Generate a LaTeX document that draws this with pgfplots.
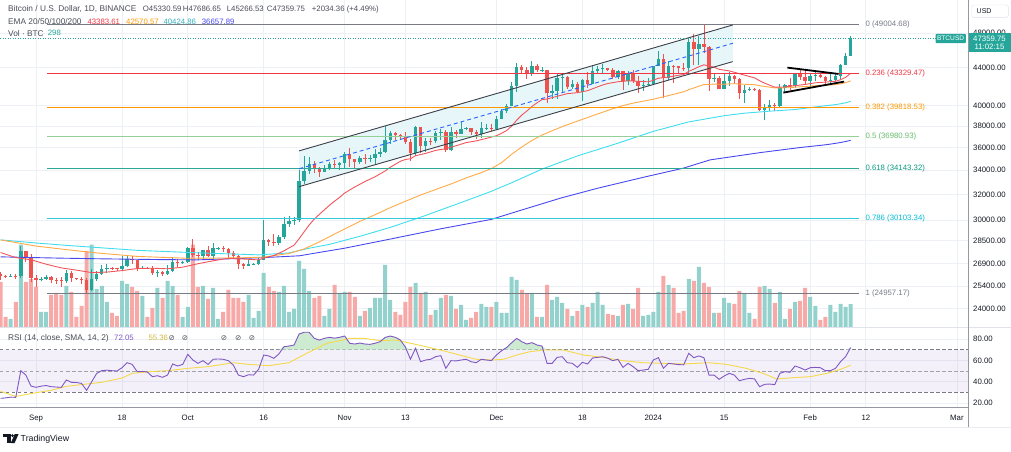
\documentclass[border=0pt]{standalone}
\usepackage{fontspec}
\setmainfont{Liberation Sans}
\newfontfamily\symfont{DejaVu Sans}
\usepackage{pgfplots}
\pgfplotsset{compat=1.18}
\usepackage{pgfplotstable}

% palette
\definecolor{upc}{HTML}{26A69A}
\definecolor{dnc}{HTML}{EF5350}
\definecolor{upv}{HTML}{93D2CC}
\definecolor{dnv}{HTML}{F7A9A7}
\definecolor{txt}{HTML}{131722}
\definecolor{lbl}{HTML}{4A4D57}
\definecolor{gridc}{HTML}{EDF0F5}
\definecolor{frame}{HTML}{9598A1}
\definecolor{sepc}{HTML}{E0E3EB}
\definecolor{fgray}{HTML}{787B86}
\definecolor{fred}{HTML}{F23645}
\definecolor{forange}{HTML}{FF9800}
\definecolor{fgreen}{HTML}{66BB6A}
\definecolor{fteal}{HTML}{089981}
\definecolor{fcyan}{HTML}{00BCD4}
\definecolor{emaA}{HTML}{F2545B}
\definecolor{emaB}{HTML}{FFAA45}
\definecolor{emaC}{HTML}{3FDDEE}
\definecolor{emaD}{HTML}{4848F0}
\definecolor{rsic}{HTML}{7E57C2}
\definecolor{smac}{HTML}{F5D94A}
\definecolor{obc}{HTML}{CDEBD0}
\definecolor{chanfill}{HTML}{E3F5F8}
\definecolor{chanline}{HTML}{3C3F48}
\definecolor{midc}{HTML}{2962FF}

\newcommand\tvf{\fontsize{7.8}{9}\selectfont}
\newcommand\tvw{\fontsize{8.3}{9.5}\selectfont}

% daily candles: day index (0 = 1 Sep 2023), open, high, low, close, volume
\pgfplotstableread{
d o h l c v
-7 26170 26310 25780 26050 585
-6 26050 26110 25960 26010 130
-5 26010 26170 25980 26090 104
-4 26090 26220 25860 26080 325
-3 26080 28140 25910 27720 1066
-2 27720 27760 27020 27300 585
-1 27300 27570 25650 25940 624
0 25940 26130 25330 25800 520
1 25800 25970 25720 25870 195
2 25870 26130 25800 25970 195
3 25970 26090 25600 25820 416
4 25820 25900 25570 25790 442
5 25790 26000 25360 25750 416
6 25750 26440 25610 26240 533
7 26240 26420 25650 25905 455
8 25905 25940 25800 25895 130
9 25895 26000 25560 25830 273
10 25830 25900 24957.17 25160 988
11 25160 26540 25130 25840 1066
12 25840 26400 25760 26220 494
13 26220 26770 26130 26530 533
14 26530 26850 26230 26600 325
15 26600 26670 26470 26570 182
16 26570 26620 26420 26530 143
17 26530 27410 26390 26760 598
18 26760 27490 26680 27210 559
19 27210 27390 26850 27130 520
20 27130 27150 26360 26570 468
21 26570 26740 26500 26580 403
22 26580 26640 26520 26570 130
23 26570 26740 26130 26250 247
24 26250 26430 25990 26300 507
25 26300 26390 26090 26220 377
26 26220 26820 26110 26370 598
27 26370 27310 26330 27030 533
28 27030 27230 26670 26910 416
29 26910 27090 26890 26970 130
30 26970 28070 26950 27990 260
31 27990 28580 27320 27500 1066
32 27500 27670 27160 27430 520
33 27430 27840 27220 27790 533
34 27790 28120 27360 27410 364
35 27410 28290 27170 27930 507
36 27930 28000 27850 27960 104
37 27960 28100 27690 27920 195
38 27920 27990 27260 27590 481
39 27590 27740 27300 27390 377
40 27390 27480 26560 26870 377
41 26870 26950 26540 26750 325
42 26750 27100 26700 26860 416
43 26860 26960 26810 26880 117
44 26880 27290 26800 27160 208
45 27160 30000 27110 28500 702
46 28500 28600 28100 28410 520
47 28410 28980 28130 28330 468
48 28330 28920 28190 28720 455
49 28720 30210 28600 29680 533
50 29680 30340 29470 29910 195
51 29910 30200 29660 29990 234
52 29990 34000 29880 33070 858
53 33070 35200 32880 33920 754
54 33920 35130 33700 34500 468
55 34500 34830 33760 34150 377
56 34150 34250 33400 33890 403
57 33890 34480 33880 34090 143
58 34090 34750 34040 34530 234
59 34530 34880 34080 34480 546
60 34480 34720 34050 34650 429
61 34650 35580 34100 35420 455
62 35420 35980 34300 34940 455
63 34940 34950 34100 34720 390
64 34720 35270 34580 35080 143
65 35080 35380 34530 35030 208
66 35030 35290 34740 35050 247
67 35050 35890 34520 35410 377
68 35410 35980 35120 35620 377
69 35620 37970 35530 36690 806
70 36690 37530 36330 37310 351
71 37310 37400 36730 37130 195
72 37130 37230 36720 37060 156
73 37060 37420 36340 36480 325
74 36480 36760 34800 35550 520
75 35550 37960 35360 37880 572
76 37880 37930 35510 36160 442
77 36160 36850 35600 36590 455
78 36590 36850 36200 36570 156
79 36570 37530 36400 37370 221
80 37370 37750 36700 37470 377
81 37470 37650 35630 35760 416
82 35760 37870 35660 37420 403
83 37420 37650 36870 37290 234
84 37290 38420 37250 37720 286
85 37720 37890 37600 37790 91
86 37790 37830 37150 37450 117
87 37450 37580 36750 37240 195
88 37240 38390 36880 37830 299
89 37830 38180 37600 37850 260
90 37850 38150 37500 37710 260
91 37710 38990 37610 38690 325
92 38690 39700 38650 39470 182
93 39470 40200 39260 39980 182
94 39980 42420 39980 41980 650
95 41980 44490 41420 44080 611
96 44080 44300 43330 43770 481
97 43770 44050 42820 43290 429
98 43290 44700 43080 44170 442
99 44170 44360 43580 43720 130
100 43720 44040 43560 43790 130
101 43790 43800 40220 41240 546
102 41240 42100 40680 41450 351
103 41450 43430 40650 42890 390
104 42890 43420 41420 43020 312
105 43020 43090 41660 41940 234
106 41940 42700 41690 42260 143
107 42260 42430 41250 41370 208
108 41370 42750 40500 42660 286
109 42660 43480 41820 42270 260
110 42270 44280 42200 43650 312
111 43650 44230 43270 43870 455
112 43870 44370 43400 44000 286
113 44000 44020 43590 43740 169
114 43740 43950 42760 43020 156
115 43020 43800 42720 43610 143
116 43610 43610 41650 42520 286
117 42520 43680 42100 43440 299
118 43440 43800 42300 42580 234
119 42580 43120 41300 42070 507
120 42070 42610 41520 42140 143
121 42140 42900 41970 42280 156
122 42280 44180 42180 44180 195
123 44180 45900 44150 44970 455
124 44970 45500 40750 42850 663
125 42850 44730 42620 44180 546
126 44180 44340 42300 44160 507
127 44160 44230 43410 43970 182
128 43970 44500 43630 43930 208
129 43930 47250 43200 46970 624
130 46970 47900 44300 46120 598
131 46120 47700 44350 46660 780
132 46660 49004.68 45600 46340 572
133 46340 46500 41500 42780 520
134 42780 43260 42440 42840 182
135 42840 43070 41720 41730 182
136 41730 43400 41700 42510 377
137 42510 43570 42050 43140 312
138 43140 43200 42200 42740 299
139 42740 42930 40680 41260 468
140 41260 42180 40280 41620 442
141 41620 41870 41450 41670 182
142 41670 41860 41500 41580 104
143 41580 41700 39430 39570 520
144 39570 40130 38550 39890 533
145 39890 40550 39490 40080 494
146 40080 40290 39500 39940 312
147 39940 42250 39820 41820 455
148 41820 42200 41390 42120 104
149 42120 42840 41620 42030 234
150 42030 43310 41800 43300 325
151 43300 43880 42680 42950 338
152 42950 43750 42280 42580 507
153 42580 43290 41880 43080 390
154 43080 43490 42570 43200 273
155 43200 43380 42880 43010 91
156 43010 43120 42230 42580 130
157 42580 43550 42260 42710 286
158 42710 43420 42580 43090 195
159 43090 44380 42790 44340 299
160 44340 45610 44330 45290 260
161 45330.59 47686.65 45266.53 47359.75 298
}\ohlc

% moving averages (day, price)
\pgfplotstableread{
d p
-7 27650
-4 27300
-1 27150
2 26850
5 26600
8 26450
11 26290
14 26320
17 26420
20 26560
23 26580
26 26540
29 26650
32 26880
35 27080
38 27250
41 27200
44 27140
45 27266
47 27439
49 27763
50 27967
51 28160
52 28627
53 29131
54 29642
55 30071
56 30435
57 30783
58 31140
59 31458
60 31762
61 32110
63 32602
65 33047
67 33445
69 33941
70 34262
72 34775
73 34937
74 34995
75 35270
77 35473
79 35748
81 35898
83 36162
85 36451
87 36612
89 36835
91 37087
92 37314
93 37568
94 37988
95 38568
96 39063
97 39465
98 39913
99 40275
100 40610
101 40670
103 40948
105 41221
107 41325
109 41530
110 41732
111 41936
112 42132
113 42285
115 42474
117 42570
119 42523
121 42467
122 42630
123 42853
125 42979
127 43175
128 43247
129 43601
130 43841
131 44109
132 44321
133 44174
134 44047
135 43826
137 43648
139 43343
141 43035
142 42896
143 42579
144 42323
145 42109
146 41902
148 41916
150 42058
152 42185
154 42359
156 42436
158 42522
159 42695
160 42942
161 43383.61
}\emaT

\pgfplotstableread{
d p
-7 28540
0 28100
6 27850
12 27620
20 27380
30 27250
40 27280
45 27330
50 27580
53 27900
56 28400
60 29150
64 29900
67 30400
70 30950
73 31450
76 31950
79 32400
82 32850
85 33350
88 33800
90 34150
92 34650
94 35400
96 36050
98 36650
100 37150
102 37550
104 37950
106 38300
108 38650
110 39000
112 39350
114 39700
116 40000
118 40250
120 40450
122 40650
124 40900
126 41150
128 41419
129 41637
130 41813
131 42003
132 42173
133 42197
134 42222
135 42202
136 42214
137 42250
138 42269
139 42229
140 42205
141 42184
142 42160
143 42058
144 41973
145 41899
146 41822
147 41822
148 41834
149 41842
150 41899
151 41940
152 41965
153 42009
154 42055
155 42093
156 42112
157 42135
158 42172
159 42257
160 42376
161 42570.57
}\emaF

\pgfplotstableread{
d p
-7 28540
0 28320
6 28150
13 27976
20 27800
32 27627
44 27487
50 27620
54 27950
58 28220
64 28800
70 29450
77 30350
84 31350
90 32250
94 32950
100 34100
107 35250
115 36400
122 37500
129 38400
136 39000
140 39250
145 39450
150 39610
151 39677
152 39739
153 39805
154 39872
155 39934
156 39986
157 40040
158 40100
159 40184
160 40285
161 40424.86
}\emaH

\pgfplotstableread{
d p
-7 27350
5 27260
13 27214
25 27160
32 27144
44 27282
52 27420
61 27950
70 28600
80 29350
90 30050
95 30650
103.6 31695
111 32500
120 33400
127.9 34179
133.2 34898
143.1 35544
151 36000
156 36252
157 36316
158 36383
159 36462
160 36550
161 36657.89
}\emaW

% RSI(14) and its 14-day average
\pgfplotstableread{
d r
-7 24.4
-6 24.8
-5 25.5
-4 25.3
-3 50.3
-2 46.2
-1 35.9
0 34.7
1 35.8
2 36.4
3 35.3
4 35.0
5 34.7
6 41.6
7 39.4
8 39.2
9 38.4
10 31.9
11 39.9
12 47.8
13 50.3
14 50.8
15 50.3
16 50.0
17 53.1
18 57.8
19 56.2
20 49.4
21 49.6
22 49.1
23 44.7
24 45.6
25 44.1
26 46.2
27 56.6
28 54.7
29 56.2
30 65.6
31 60.3
32 57.2
33 59.7
34 56.2
35 61.0
36 61.3
37 61.0
38 59.7
39 55.6
40 46.2
41 44.7
42 46.5
43 46.2
44 51.6
45 65.0
46 64.1
47 61.9
48 66.0
49 72.8
50 73.4
51 74.4
52 84.7
53 86.3
54 86.3
55 80.6
56 79.0
57 80.6
58 81.6
59 80.8
60 81.6
61 82.8
62 76.0
63 75.3
64 76.2
65 75.3
66 75.0
67 76.0
68 77.5
69 81.5
70 82.8
71 81.6
72 79.1
73 72.5
74 61.0
75 71.3
76 58.7
77 60.3
78 61.0
79 63.5
80 64.4
81 52.5
82 59.7
83 59.5
84 60.3
85 61.0
86 58.7
87 57.8
88 61.0
89 60.3
90 59.8
91 65.0
92 69.0
93 72.0
94 76.5
95 80.6
96 77.5
97 75.3
98 76.6
99 74.4
100 73.4
101 57.2
102 57.2
103 62.8
104 63.4
105 57.8
106 57.2
107 53.4
108 58.1
109 56.6
110 62.2
111 62.8
112 63.4
113 62.0
114 59.7
115 61.0
116 53.4
117 57.2
118 54.1
119 50.3
120 50.9
121 51.6
122 60.3
123 62.5
124 52.5
125 57.2
126 56.6
127 56.0
128 55.8
129 66.6
130 62.5
131 64.1
132 62.5
133 46.2
134 46.2
135 42.2
136 45.3
137 47.8
138 46.2
139 40.9
140 42.2
141 43.1
142 42.6
143 35.3
144 37.5
145 37.8
146 37.2
147 47.8
148 49.4
149 48.8
150 54.7
151 53.1
152 50.9
153 53.1
154 53.4
155 53.1
156 50.3
157 50.3
158 52.5
159 58.7
160 63.4
161 72.05
}\rsidata

\pgfplotstableread{
d s
-7 30.9
-4 26.2
-1 28.8
3 32.0
6 35.6
10 37.8
13 39.4
17 43.4
19 47.8
22.5 49.4
26 50.3
30 52.5
34 54.1
39 57.8
42 56.2
46 55.0
50 57.8
53.5 66.6
57.5 76.0
60 78.4
62 80.6
65 80.6
68 78.4
71 79.1
72.6 77.5
76.5 73.4
80.5 69.0
84.4 64.1
87 61.0
90 60.3
92.4 61.0
95 65.0
97.6 68.1
100.3 69.7
104.2 69.7
108.2 65.0
112 62.8
116 59.7
120 57.8
124 57.2
128 56.6
133 57.8
136.5 56.2
140.4 52.5
143.7 47.8
146.4 42.5
149.7 43.8
153 44.7
156.3 47.8
159 51.6
161 55.36
}\smadata

\tikzset{tvlabel/.style={font=\tvf, text=txt, anchor=west, inner sep=0pt}}

\pgfplotsset{
  tvpane/.style={scale only axis, width=968pt, xmin=-7.115, xmax=184.19,
    anchor=north west, clip=true},
  upsel/.style={restrict expr to domain={\thisrow{c}-\thisrow{o}}{0:100000}},
  dnsel/.style={restrict expr to domain={\thisrow{c}-\thisrow{o}}{-100000:-0.001}},
}

\begin{document}
\begin{tikzpicture}
\useasboundingbox (0pt,0pt) rectangle (1011pt,-451pt);

% price scale and grid
\begin{axis}[tvpane, at={(0pt,0pt)}, height=327pt,
  ymode=log, ymin=22930, ymax=52170,
  axis line style={draw=none}, tick style={draw=none},
  xtick={0,17,30,45,61,73,91,108,122,136,153,164,182}, xticklabel={\mbox{}},
  ytick={24000,25400,26900,28500,30000,32000,34000,36000,38000,40000,44000,48000},
  yticklabels={24000.00,25400.00,26900.00,28500.00,30000.00,32000.00,34000.00,36000.00,38000.00,40000.00,44000.00,48000.00},
  yticklabel pos=right,
  yticklabel style={tvlabel, xshift=5pt},
  grid=major, major grid style={gridc, line width=0.8pt}]
\addplot[draw=none] coordinates {(0,30000)};
\end{axis}

% volume
\begin{axis}[tvpane, at={(0pt,0pt)}, height=327pt, ymin=0, ymax=4237, hide axis]
\addplot[ybar, bar width=4pt, bar shift=0pt, fill=upv, draw=none, upsel]
  table[x=d, y=v] {\ohlc};
\addplot[ybar, bar width=4pt, bar shift=0pt, fill=dnv, draw=none, dnsel]
  table[x=d, y=v] {\ohlc};
\end{axis}

% candles, averages and drawings
\begin{axis}[tvpane, at={(0pt,0pt)}, height=327pt,
  ymode=log, ymin=22930, ymax=52170, hide axis]
% channel body
\addplot[fill=chanfill, draw=none, fill opacity=0.85]
  coordinates {(52,35700) (137.7,48990) (137.7,44680) (52,32630)} -- cycle;
% wicks
\addplot[draw=none, mark=none, upsel,
  error bars/.cd, y dir=plus, y explicit, error mark=none,
  error bar style={draw=upc, line width=0.8pt}]
  table[x=d, y=l, y error plus expr=\thisrow{h}-\thisrow{l}] {\ohlc};
\addplot[draw=none, mark=none, dnsel,
  error bars/.cd, y dir=plus, y explicit, error mark=none,
  error bar style={draw=dnc, line width=0.8pt}]
  table[x=d, y=l, y error plus expr=\thisrow{h}-\thisrow{l}] {\ohlc};
% bodies
\addplot[draw=none, mark=none, upsel,
  error bars/.cd, y dir=plus, y explicit, error mark=none,
  error bar style={draw=upc, line width=3.4pt}]
  table[x=d, y=o, y error plus expr={max(\thisrow{c}-\thisrow{o},15)}] {\ohlc};
\addplot[draw=none, mark=none, dnsel,
  error bars/.cd, y dir=plus, y explicit, error mark=none,
  error bar style={draw=dnc, line width=3.4pt}]
  table[x=d, y=c, y error plus expr={max(\thisrow{o}-\thisrow{c},15)}] {\ohlc};
% exponential moving averages 20/50/100/200
\addplot[emaD, line width=0.9pt] table[x=d, y=p] {\emaW};
\addplot[emaC, line width=0.9pt] table[x=d, y=p] {\emaH};
\addplot[emaB, line width=0.9pt] table[x=d, y=p] {\emaF};
\addplot[emaA, line width=0.9pt] table[x=d, y=p] {\emaT};
% Fibonacci retracement levels
\addplot[fgray, line width=0.9pt] coordinates {(2.17,49004.68) (162.6,49004.68)};
\addplot[fred, line width=0.9pt] coordinates {(2.17,43329.47) (162.6,43329.47)};
\addplot[forange, line width=0.9pt] coordinates {(2.17,39818.53) (162.6,39818.53)};
\addplot[fgreen!70, line width=1.2pt] coordinates {(2.17,36980.93) (162.6,36980.93)};
\addplot[fteal!85, line width=0.9pt] coordinates {(2.17,34143.32) (162.6,34143.32)};
\addplot[fcyan!80, line width=0.9pt] coordinates {(2.17,30103.34) (162.6,30103.34)};
\addplot[fgray, line width=0.9pt] coordinates {(2.17,24957.17) (162.6,24957.17)};
\node[tvlabel, text=fgray] at (axis cs:163.9,49004.68) {0 (49004.68)};
\node[tvlabel, text=fred] at (axis cs:163.9,43329.47) {0.236 (43329.47)};
\node[tvlabel, text=forange] at (axis cs:163.9,39818.53) {0.382 (39818.53)};
\node[tvlabel, text=fgreen] at (axis cs:163.9,36980.93) {0.5 (36980.93)};
\node[tvlabel, text=fteal] at (axis cs:163.9,34143.32) {0.618 (34143.32)};
\node[tvlabel, text=fcyan] at (axis cs:163.9,30103.34) {0.786 (30103.34)};
\node[tvlabel, text=fgray] at (axis cs:163.9,24957.17) {1 (24957.17)};
% parallel channel
\addplot[chanline, line width=0.9pt] coordinates {(52,35700) (137.7,48990)};
\addplot[chanline, line width=0.9pt] coordinates {(52,32630) (137.7,44680)};
\addplot[midc, line width=0.9pt, dash pattern=on 4pt off 3pt] coordinates {(52,34131) (137.7,46785)};
% triangle
\addplot[black, line width=1.8pt] coordinates {(148.5,44009) (158.6,43315)};
\addplot[black, line width=1.8pt] coordinates {(147.7,41328) (159.7,42487)};
% last price line
\addplot[upc, line width=0.8pt, dash pattern=on 1pt off 1.5pt] coordinates {(-7.115,47359.75) (184.19,47359.75)};
\end{axis}

% RSI pane
\begin{axis}[tvpane, at={(0pt,-327pt)}, height=80pt, ymin=16.25, ymax=91.25,
  axis line style={draw=none}, tick style={draw=none},
  xtick={0,17,30,45,61,73,91,108,122,136,153,164,182},
  xticklabels={Sep,18,Oct,16,Nov,13,Dec,18,2024,15,Feb,12,Mar},
  xticklabel style={font=\tvf, text=txt, anchor=north, inner sep=0pt, yshift=-7pt,
    text height=6pt, text depth=1.5pt},
  ytick={20,40,60,80}, yticklabels={20.00,40.00,60.00,80.00},
  yticklabel pos=right, yticklabel style={tvlabel, xshift=5pt},
  grid=major, major grid style={gridc, line width=0.8pt}]
\addplot[fill=rsic, fill opacity=0.09, draw=none]
  coordinates {(-7.115,30) (184.19,30) (184.19,70) (-7.115,70)} -- cycle;
\addplot[fgray, line width=0.7pt, dash pattern=on 3.5pt off 2.5pt] coordinates {(-7.115,70) (184.19,70)};
\addplot[fgray!70, line width=0.7pt, dash pattern=on 3.5pt off 2.5pt] coordinates {(-7.115,50) (184.19,50)};
\addplot[fgray, line width=0.7pt, dash pattern=on 3.5pt off 2.5pt] coordinates {(-7.115,30) (184.19,30)};
% overbought area above 70
\addplot[fill=obc, draw=none] table[x=d, y expr={max(\thisrow{r},70)}] {\rsidata}
  -- (axis cs:161,70) -- (axis cs:-7,70) -- cycle;
\addplot[smac, line width=0.9pt] table[x=d, y=s] {\smadata};
\addplot[rsic, line width=0.9pt] table[x=d, y=r] {\rsidata};
\end{axis}

% pane frames
\draw[sepc, line width=0.8pt] (0pt,-327pt) -- (1011pt,-327pt);
\draw[sepc!70, line width=0.6pt] (0pt,-427pt) -- (1011pt,-427pt);
\draw[frame, line width=0.8pt] (0pt,-407pt) -- (968pt,-407pt);
\draw[frame, line width=0.8pt] (968pt,0pt) -- (968pt,-427pt);

% scale header and last price tags
\draw[sepc, fill=white, rounded corners=1.5pt] (971.7pt,-5pt) rectangle (1008.3pt,-17.3pt);
\node[tvlabel, font=\fontsize{7}{8}\selectfont] at (976.5pt,-11.2pt) {USD};
\fill[upc, rounded corners=1pt] (935.5pt,-33.8pt) rectangle (965.8pt,-43.2pt);
\node[font=\fontsize{6.6}{7}\selectfont, text=white, inner sep=0pt] at (950.6pt,-38.5pt) {BTCUSD};
\fill[upc] (968.5pt,-33.3pt) rectangle (1010.5pt,-52.3pt);
\node[font=\tvf, text=white, inner sep=0pt] at (989.5pt,-38.6pt) {47359.75};
\node[font=\tvf, text=white, inner sep=0pt] at (989.5pt,-47.2pt) {11:02:15};

% legends
\node[tvlabel, font=\tvw, text=lbl] at (8pt,-9.3pt) {Bitcoin / U.S. Dollar, 1D, BINANCE};
\node[tvlabel, text=lbl] at (142.7pt,-9.3pt) {O45330.59};
\node[tvlabel, text=lbl] at (182.7pt,-9.3pt) {H47686.65};
\node[tvlabel, text=lbl] at (226.7pt,-9.3pt) {L45266.53};
\node[tvlabel, text=lbl] at (266.7pt,-9.3pt) {C47359.75};
\node[tvlabel, text=lbl] at (311.7pt,-9.3pt) {+2034.36 (+4.49\%)};
\node[tvlabel, font=\tvw, text=lbl] at (8pt,-21.7pt) {EMA 20/50/100/200};
\node[tvlabel, text=fred] at (87.3pt,-21.7pt) {43383.61};
\node[tvlabel, text=forange] at (126pt,-21.7pt) {42570.57};
\node[tvlabel, text=emaC!80!black] at (163.3pt,-21.7pt) {40424.86};
\node[tvlabel, text=emaD] at (201.7pt,-21.7pt) {36657.89};
\node[tvlabel, font=\tvw, text=lbl] at (8pt,-33.3pt) {Vol · BTC};
\node[tvlabel, text=upc] at (47.7pt,-33.3pt) {298};
\node[tvlabel, font=\tvw, text=lbl] at (8pt,-338.3pt) {RSI (14, close, SMA, 14, 2)};
\node[tvlabel, text=rsic] at (114pt,-338.3pt) {72.05};
\node[tvlabel, text=smac!85!black] at (148.3pt,-338.3pt) {55.36};
\foreach \sx in {168.3,181.7,220.7,235,248.7}
  \node[tvlabel, text=lbl, font=\symfont\fontsize{7.5}{8}\selectfont] at (\sx pt,-338.3pt) {⊘};

% brand mark
\fill[txt] (3pt,-434pt) rectangle (10.5pt,-437pt);
\fill[txt] (7pt,-434pt) rectangle (10.5pt,-443pt);
\fill[txt] (12.6pt,-435.6pt) circle (1.5pt);
\fill[txt] (14.8pt,-434pt) -- (18.6pt,-434pt) -- (14.6pt,-443pt) -- (10.8pt,-443pt) -- cycle;
\node[tvlabel, font=\fontsize{8.8}{10}\selectfont] at (20.5pt,-438.8pt) {TradingView};
\end{tikzpicture}
\end{document}
